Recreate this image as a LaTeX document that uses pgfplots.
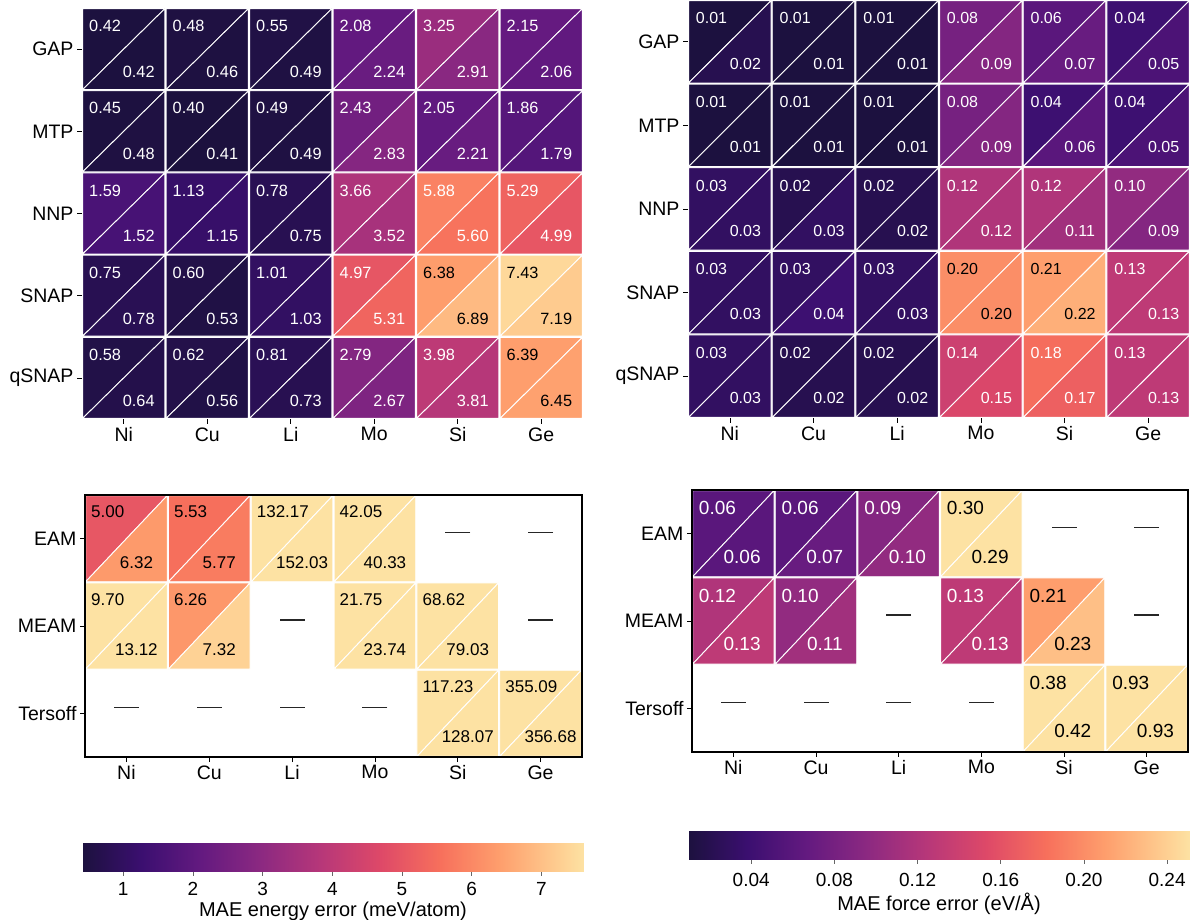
\documentclass[border=0pt]{standalone}
\usepackage{pgfplots}
\pgfplotsset{compat=1.18}
\usepackage{pgfplotstable}
\usepackage{fontspec}
\setmainfont{Liberation Sans}
\pgfkeys{/pgf/number format/assume math mode=true}

\pgfplotsset{
  colormap={magmaT}{rgb255(0pt)=(28,17,62); rgb255(119pt)=(59,15,112); rgb255(238pt)=(100,26,128); rgb255(357pt)=(140,41,129); rgb255(476pt)=(183,55,121); rgb255(595pt)=(222,73,104); rgb255(714pt)=(247,112,92); rgb255(833pt)=(254,159,109); rgb255(952pt)=(254,207,146); rgb255(1000pt)=(253,226,163)},
}

\pgfdeclareplotmark{triUL}{%
  \pgfpathmoveto{\pgfpoint{-\hw}{-\hh}}%
  \pgfpathlineto{\pgfpoint{-\hw}{\hh}}%
  \pgfpathlineto{\pgfpoint{\hw}{\hh}}%
  \pgfpathclose\pgfusepathqfillstroke}
\pgfdeclareplotmark{triLR}{%
  \pgfpathmoveto{\pgfpoint{\hw}{\hh}}%
  \pgfpathlineto{\pgfpoint{\hw}{-\hh}}%
  \pgfpathlineto{\pgfpoint{-\hw}{-\hh}}%
  \pgfpathclose\pgfusepathqfillstroke}
\pgfdeclareplotmark{frameR}{%
  \pgfpathrectanglecorners{\pgfpoint{-\fw}{-\fh}}{\pgfpoint{\fw}{\fh}}%
  \pgfusepathqstroke}

\pgfplotsset{
  hm/.style={scale only axis, anchor=south west, xmin=-0.5, xmax=5.5,
    enlargelimits=false, xtick={0,...,5}, xticklabels={Ni,Cu,Li,Mo,Si,Ge},
    tick align=outside, major tick length=5pt, tick style={black, line width=0.6pt},
    xtick pos=left, ytick pos=left, axis line style={draw=none},
    tick label style={font=\fontsize{19.5}{21}\selectfont},
    colormap name=magmaT, clip=false},
  tri/.style 2 args={scatter, only marks, mark=#1, point meta=\thisrow{#2},
    scatter/use mapped color={draw=white, fill=mapped color},
    mark options={line width=0.9pt}},
  lab/.style n args={6}{only marks, mark=none, point meta=\thisrow{#1},
    nodes near coords={\pgfmathprintnumber[fixed,fixed zerofill,precision=2]{\pgfplotspointmeta}},
    visualization depends on={\thisrow{#2}\as\tcol},
    every node near coord/.append style={anchor=#3, inner sep=0pt, xshift=#4, yshift=#5,
      text=white!\tcol!black, font=\fontsize{#6}{#6}\selectfont}},
  dash/.style={only marks, mark=-, mark size=12.5pt,
    mark options={line width=1.1pt, black!85, yshift=6pt}},
  frame/.style={only marks, mark=frameR,
    mark options={draw=black, line width=2.2pt, line join=miter}},
  cbar/.style={axis line style={draw=none}, tick align=outside, major tick length=4pt,
    xtick pos=left, tick style={black!60, line width=0.6pt},
    tick label style={font=\fontsize{19}{21}\selectfont},
    xlabel style={font=\fontsize{20}{22}\selectfont}},
}

% text colour columns: 100 = white text, 0 = black text
% energy, top-left: rows GAP=4, MTP=3, NNP=2, SNAP=1, qSNAP=0
\pgfplotstableread{
x y a b ca cb
0 4 0.42 0.42 100 100
1 4 0.48 0.46 100 100
2 4 0.55 0.49 100 100
3 4 2.08 2.24 100 100
4 4 3.25 2.91 100 100
5 4 2.15 2.06 100 100
0 3 0.45 0.48 100 100
1 3 0.40 0.41 100 100
2 3 0.49 0.49 100 100
3 3 2.43 2.83 100 100
4 3 2.05 2.21 100 100
5 3 1.86 1.79 100 100
0 2 1.59 1.52 100 100
1 2 1.13 1.15 100 100
2 2 0.78 0.75 100 100
3 2 3.66 3.52 100 100
4 2 5.88 5.60 100 100
5 2 5.29 4.99 100 100
0 1 0.75 0.78 100 100
1 1 0.60 0.53 100 100
2 1 1.01 1.03 100 100
3 1 4.97 5.31 100 100
4 1 6.38 6.89 0 0
5 1 7.43 7.19 0 0
0 0 0.58 0.64 100 100
1 0 0.62 0.56 100 100
2 0 0.81 0.73 100 100
3 0 2.79 2.67 100 100
4 0 3.98 3.81 100 100
5 0 6.39 6.45 0 0
}\tlE

% force, top-right
\pgfplotstableread{
x y a b ca cb
0 4 0.01 0.02 100 100
1 4 0.01 0.01 100 100
2 4 0.01 0.01 100 100
3 4 0.08 0.09 100 100
4 4 0.06 0.07 100 100
5 4 0.04 0.05 100 100
0 3 0.01 0.01 100 100
1 3 0.01 0.01 100 100
2 3 0.01 0.01 100 100
3 3 0.08 0.09 100 100
4 3 0.04 0.06 100 100
5 3 0.04 0.05 100 100
0 2 0.03 0.03 100 100
1 2 0.02 0.03 100 100
2 2 0.02 0.02 100 100
3 2 0.12 0.12 100 100
4 2 0.12 0.11 100 100
5 2 0.10 0.09 100 100
0 1 0.03 0.03 100 100
1 1 0.03 0.04 100 100
2 1 0.03 0.03 100 100
3 1 0.20 0.20 0 0
4 1 0.21 0.22 0 0
5 1 0.13 0.13 100 100
0 0 0.03 0.03 100 100
1 0 0.02 0.02 100 100
2 0 0.02 0.02 100 100
3 0 0.14 0.15 100 100
4 0 0.18 0.17 100 100
5 0 0.13 0.13 100 100
}\trF

% energy, bottom-left: rows EAM=2, MEAM=1, Tersoff=0
\pgfplotstableread{
x y a b ca cb
0 2 5.00 6.32 0 0
1 2 5.53 5.77 0 0
2 2 132.17 152.03 0 0
3 2 42.05 40.33 0 0
0 1 9.70 13.12 0 0
1 1 6.26 7.32 0 0
3 1 21.75 23.74 0 0
4 1 68.62 79.03 0 0
4 0 117.23 128.07 0 0
5 0 355.09 356.68 0 0
}\blE

% force, bottom-right
\pgfplotstableread{
x y a b ca cb
0 2 0.06 0.06 100 100
1 2 0.06 0.07 100 100
2 2 0.09 0.10 100 100
3 2 0.30 0.29 0 0
0 1 0.12 0.13 100 100
1 1 0.10 0.11 100 100
3 1 0.13 0.13 100 100
4 1 0.21 0.23 0 0
4 0 0.38 0.42 0 0
5 0 0.93 0.93 0 0
}\brF

% cells with no value
\pgfplotstableread{
x y
4 2
5 2
2 1
5 1
0 0
1 0
2 0
3 0
}\empt

\begin{document}
\begin{tikzpicture}[x=1pt,y=1pt]
\useasboundingbox (0,0) rectangle (1194,919);

% ---------- top left: energy ----------
\def\hw{41.15pt}\def\hh{40.5pt}
\begin{axis}[hm, at={(82pt,500pt)}, width=501pt, height=411pt,
  ymin=-0.5, ymax=4.5, ytick={0,...,4}, yticklabels={qSNAP,SNAP,NNP,MTP,GAP},
  point meta min=0.41, point meta max=7.61]
\addplot[tri={triUL}{a}] table[x=x,y=y] {\tlE};
\addplot[tri={triLR}{b}] table[x=x,y=y] {\tlE};
\addplot[lab={a}{ca}{west}{-34.75pt}{23.1pt}{16.3}] table[x=x,y=y] {\tlE};
\addplot[lab={b}{cb}{center}{15pt}{-22.8pt}{16.3}] table[x=x,y=y] {\tlE};
\end{axis}

% ---------- top right: force ----------
\def\hw{41.23pt}\def\hh{41.2pt}
\begin{axis}[hm, at={(688pt,501pt)}, width=502pt, height=418pt,
  ymin=-0.5, ymax=4.5, ytick={0,...,4}, yticklabels={qSNAP,SNAP,NNP,MTP,GAP},
  point meta min=0.0096, point meta max=0.251]
\addplot[tri={triUL}{a}] table[x=x,y=y] {\trF};
\addplot[tri={triLR}{b}] table[x=x,y=y] {\trF};
\addplot[lab={a}{ca}{west}{-34.1pt}{23.3pt}{16}] table[x=x,y=y] {\trF};
\addplot[lab={b}{cb}{center}{15.5pt}{-21.8pt}{16}] table[x=x,y=y] {\trF};
\end{axis}

% ---------- bottom left: energy ----------
\def\hw{40.8pt}\def\hh{43.07pt}\def\fw{248.5pt}\def\fh{131pt}
\begin{axis}[hm, at={(85pt,162pt)}, width=497pt, height=262pt,
  ymin=-0.5, ymax=2.5, ytick={0,...,2}, yticklabels={Tersoff,MEAM,EAM},
  point meta min=0.41, point meta max=7.61,
  colorbar horizontal, colorbar/width=28pt,
  colorbar style={at={(parent axis.south west)}, anchor=north west,
    xshift=-3pt, yshift=-78pt, scale only axis, width=502pt,
    xtick={1,...,7}, xticklabels={1,2,3,4,5,6,7}, cbar,
    xticklabel style={yshift=-3pt},
    xlabel={MAE energy error (meV/atom)}}]
\addplot[tri={triUL}{a}] table[x=x,y=y] {\blE};
\addplot[tri={triLR}{b}] table[x=x,y=y] {\blE};
\addplot[lab={a}{ca}{west}{-35.4pt}{26.65pt}{17}] table[x=x,y=y] {\blE};
\addplot[lab={b}{cb}{center}{10pt}{-23.65pt}{17}] table[x=x,y=y] {\blE};
\addplot[dash] table[x=x,y=y] {\empt};
\addplot[frame] coordinates {(2.5,1)};
\end{axis}

% ---------- bottom right: force ----------
\def\hw{40.73pt}\def\hh{43.07pt}\def\fw{248pt}\def\fh{131pt}
\begin{axis}[hm, at={(692pt,167pt)}, width=496pt, height=262pt,
  ymin=-0.5, ymax=2.5, ytick={0,...,2}, yticklabels={Tersoff,MEAM,EAM},
  point meta min=0.0096, point meta max=0.251,
  colorbar horizontal, colorbar/width=28pt,
  colorbar style={at={(parent axis.south west)}, anchor=north west,
    xshift=-4pt, yshift=-71pt, scale only axis, width=502pt,
    xtick={0.04,0.08,0.12,0.16,0.20,0.24},
    xticklabels={0.04,0.08,0.12,0.16,0.20,0.24}, cbar,
    xticklabel style={yshift=-6pt},
    xlabel={MAE force error (eV/Å)}}]
\addplot[tri={triUL}{a}] table[x=x,y=y] {\brF};
\addplot[tri={triLR}{b}] table[x=x,y=y] {\brF};
\addplot[lab={a}{ca}{west}{-34.6pt}{25.3pt}{19}] table[x=x,y=y] {\brF};
\addplot[lab={b}{cb}{center}{8.8pt}{-22.95pt}{19}] table[x=x,y=y] {\brF};
\addplot[dash] table[x=x,y=y] {\empt};
\addplot[frame] coordinates {(2.5,1)};
\end{axis}
\end{tikzpicture}
\end{document}
